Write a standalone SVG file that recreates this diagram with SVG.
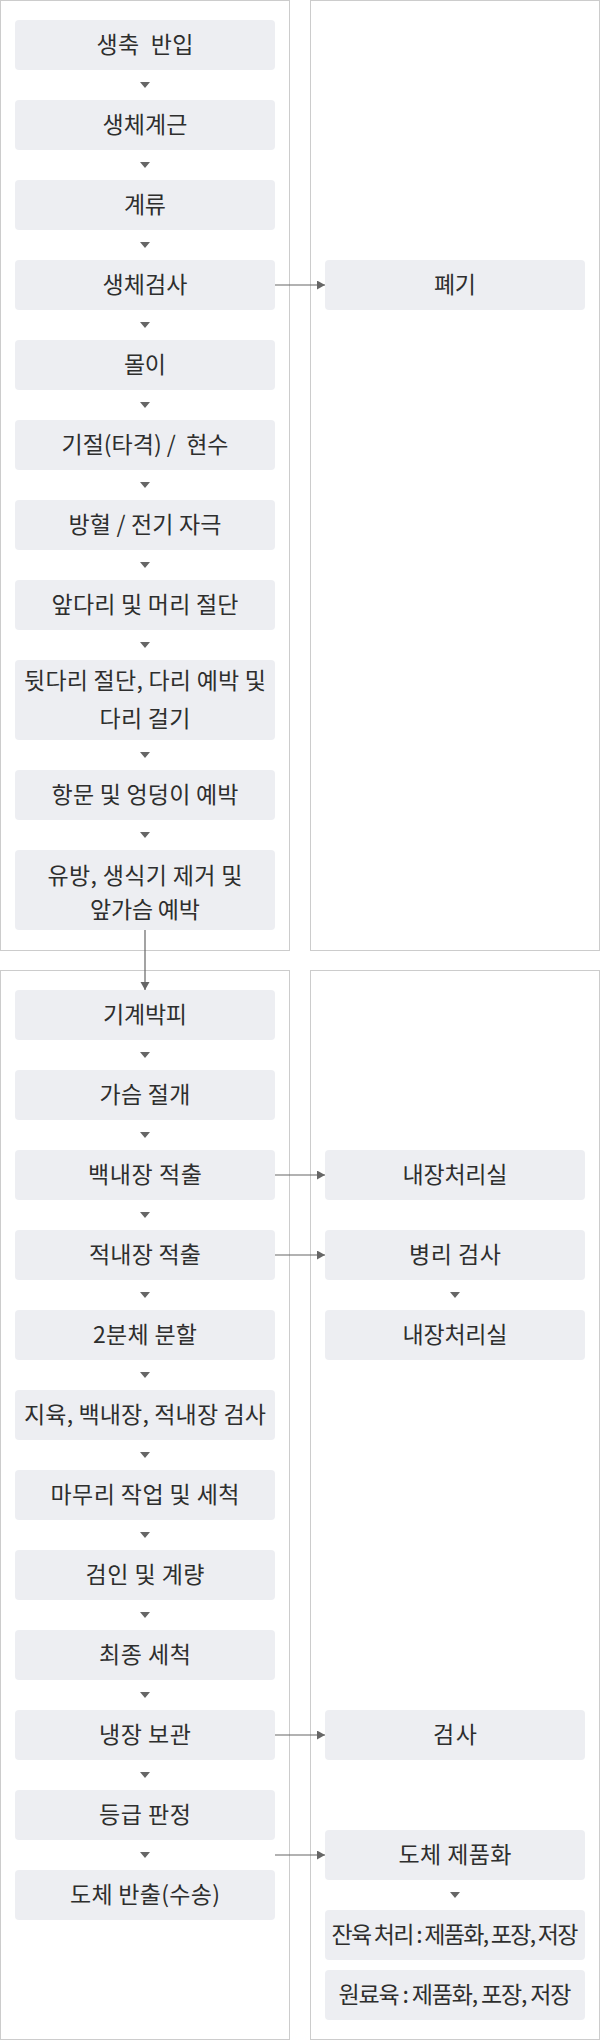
<svg xmlns="http://www.w3.org/2000/svg" width="600" height="2040" viewBox="0 0 600 2040">
<defs>
<style>
.panel{fill:#fff;stroke:#cccccc;stroke-width:1}
.node rect{fill:#edeef2}
.node text{font-family:"Noto Sans CJK KR","Noto Sans",sans-serif;font-size:23px;fill:#2e2e2e;text-anchor:middle;white-space:pre}
.tri{fill:#666}
.conn{stroke:#666;stroke-width:1.2;fill:none}
</style>
<marker id="ah" markerUnits="userSpaceOnUse" markerWidth="9" markerHeight="10" refX="8" refY="4.5" orient="auto">
<path d="M0,0 L8,4.5 L0,9 z" fill="#666"/>
</marker>
</defs>
<g id="panels">
<rect class="panel" x="0.5" y="0.5" width="289" height="950"/>
<rect class="panel" x="310.5" y="0.5" width="289" height="950"/>
<rect class="panel" x="0.5" y="970.5" width="289" height="1069"/>
<rect class="panel" x="310.5" y="970.5" width="289" height="1069"/>
</g>
<g id="n1" class="node"><rect x="15" y="20" width="260" height="50" rx="4"/><text x="145" y="52.5" xml:space="preserve" textLength="97" lengthAdjust="spacing">생축  반입</text></g>
<g id="n2" class="node"><rect x="15" y="100" width="260" height="50" rx="4"/><text x="145" y="132.5" textLength="85" lengthAdjust="spacing">생체계근</text></g>
<g id="n3" class="node"><rect x="15" y="180" width="260" height="50" rx="4"/><text x="145" y="212.5" textLength="42" lengthAdjust="spacing">계류</text></g>
<g id="n4" class="node"><rect x="15" y="260" width="260" height="50" rx="4"/><text x="145" y="292.5" textLength="85" lengthAdjust="spacing">생체검사</text></g>
<g id="n5" class="node"><rect x="15" y="340" width="260" height="50" rx="4"/><text x="145" y="372.5" textLength="42" lengthAdjust="spacing">몰이</text></g>
<g id="n6" class="node"><rect x="15" y="420" width="260" height="50" rx="4"/><text x="145" y="452.5" xml:space="preserve" textLength="167" lengthAdjust="spacing">기절(타격) /  현수</text></g>
<g id="n7" class="node"><rect x="15" y="500" width="260" height="50" rx="4"/><text x="145" y="532.5" textLength="153" lengthAdjust="spacing">방혈 / 전기 자극</text></g>
<g id="n8" class="node"><rect x="15" y="580" width="260" height="50" rx="4"/><text x="145" y="612.5" textLength="187" lengthAdjust="spacing">앞다리 및 머리 절단</text></g>
<g id="n9" class="node"><rect x="15" y="660" width="260" height="80" rx="4"/><text x="145" y="689" textLength="242" lengthAdjust="spacing">뒷다리 절단, 다리 예박 및</text><text x="145" y="726.5" textLength="91" lengthAdjust="spacing">다리 걸기</text></g>
<g id="n10" class="node"><rect x="15" y="770" width="260" height="50" rx="4"/><text x="145" y="802.5" textLength="187" lengthAdjust="spacing">항문 및 엉덩이 예박</text></g>
<g id="n11" class="node"><rect x="15" y="850" width="260" height="80" rx="4"/><text x="145" y="884" textLength="195" lengthAdjust="spacing">유방, 생식기 제거 및</text><text x="145" y="917.5" textLength="110" lengthAdjust="spacing">앞가슴 예박</text></g>
<g id="r1" class="node"><rect x="325" y="260" width="260" height="50" rx="4"/><text x="455" y="292.5" textLength="42" lengthAdjust="spacing">폐기</text></g>

<g id="m1" class="node"><rect x="15" y="990" width="260" height="50" rx="4"/><text x="145" y="1022.5" textLength="84" lengthAdjust="spacing">기계박피</text></g>
<g id="m2" class="node"><rect x="15" y="1070" width="260" height="50" rx="4"/><text x="145" y="1102.5" textLength="91" lengthAdjust="spacing">가슴 절개</text></g>
<g id="m3" class="node"><rect x="15" y="1150" width="260" height="50" rx="4"/><text x="145" y="1182.5" textLength="114" lengthAdjust="spacing">백내장 적출</text></g>
<g id="m4" class="node"><rect x="15" y="1230" width="260" height="50" rx="4"/><text x="145" y="1262.5" textLength="112" lengthAdjust="spacing">적내장 적출</text></g>
<g id="m5" class="node"><rect x="15" y="1310" width="260" height="50" rx="4"/><text x="145" y="1342.5" textLength="104" lengthAdjust="spacing">2분체 분할</text></g>
<g id="m6" class="node"><rect x="15" y="1390" width="260" height="50" rx="4"/><text x="145" y="1422.5" textLength="242" lengthAdjust="spacing">지육, 백내장, 적내장 검사</text></g>
<g id="m7" class="node"><rect x="15" y="1470" width="260" height="50" rx="4"/><text x="145" y="1502.5" textLength="189" lengthAdjust="spacing">마무리 작업 및 세척</text></g>
<g id="m8" class="node"><rect x="15" y="1550" width="260" height="50" rx="4"/><text x="145" y="1582.5" textLength="119" lengthAdjust="spacing">검인 및 계량</text></g>
<g id="m9" class="node"><rect x="15" y="1630" width="260" height="50" rx="4"/><text x="145" y="1662.5" textLength="92" lengthAdjust="spacing">최종 세척</text></g>
<g id="m10" class="node"><rect x="15" y="1710" width="260" height="50" rx="4"/><text x="145" y="1742.5" textLength="92" lengthAdjust="spacing">냉장 보관</text></g>
<g id="m11" class="node"><rect x="15" y="1790" width="260" height="50" rx="4"/><text x="145" y="1822.5" textLength="92" lengthAdjust="spacing">등급 판정</text></g>
<g id="m12" class="node"><rect x="15" y="1870" width="260" height="50" rx="4"/><text x="145" y="1902.5" textLength="150" lengthAdjust="spacing">도체 반출(수송)</text></g>

<g id="s1" class="node"><rect x="325" y="1150" width="260" height="50" rx="4"/><text x="455" y="1182.5" textLength="105" lengthAdjust="spacing">내장처리실</text></g>
<g id="s2" class="node"><rect x="325" y="1230" width="260" height="50" rx="4"/><text x="455" y="1262.5" textLength="92" lengthAdjust="spacing">병리 검사</text></g>
<g id="s3" class="node"><rect x="325" y="1310" width="260" height="50" rx="4"/><text x="455" y="1342.5" textLength="105" lengthAdjust="spacing">내장처리실</text></g>
<g id="s4" class="node"><rect x="325" y="1710" width="260" height="50" rx="4"/><text x="455" y="1742.5" textLength="44" lengthAdjust="spacing">검사</text></g>
<g id="s5" class="node"><rect x="325" y="1830" width="260" height="50" rx="4"/><text x="455" y="1862.5" textLength="113" lengthAdjust="spacing">도체 제품화</text></g>
<g id="s6" class="node"><rect x="325" y="1910" width="260" height="50" rx="4"/><text x="455" y="1942.5" textLength="247" lengthAdjust="spacing">잔육 처리 : 제품화, 포장, 저장</text></g>
<g id="s7" class="node"><rect x="325" y="1970" width="260" height="50" rx="4"/><text x="455" y="2002.5" textLength="233" lengthAdjust="spacing">원료육 : 제품화, 포장, 저장</text></g>

<g id="connectors">
<path class="tri" d="M140,82 h10 l-5,6 z M140,162 h10 l-5,6 z M140,242 h10 l-5,6 z M140,322 h10 l-5,6 z M140,402 h10 l-5,6 z M140,482 h10 l-5,6 z M140,562 h10 l-5,6 z M140,642 h10 l-5,6 z M140,752 h10 l-5,6 z M140,832 h10 l-5,6 z"/>
<path class="tri" d="M140,1052 h10 l-5,6 z M140,1132 h10 l-5,6 z M140,1212 h10 l-5,6 z M140,1292 h10 l-5,6 z M140,1372 h10 l-5,6 z M140,1452 h10 l-5,6 z M140,1532 h10 l-5,6 z M140,1612 h10 l-5,6 z M140,1692 h10 l-5,6 z M140,1772 h10 l-5,6 z M140,1852 h10 l-5,6 z"/>
<path class="tri" d="M450,1292 h10 l-5,6 z M450,1892 h10 l-5,6 z"/>
<line class="conn" x1="145" y1="930" x2="145" y2="990" marker-end="url(#ah)"/>
<line class="conn" x1="275" y1="285" x2="325" y2="285" marker-end="url(#ah)"/>
<line class="conn" x1="275" y1="1175" x2="325" y2="1175" marker-end="url(#ah)"/>
<line class="conn" x1="275" y1="1255" x2="325" y2="1255" marker-end="url(#ah)"/>
<line class="conn" x1="275" y1="1735" x2="325" y2="1735" marker-end="url(#ah)"/>
<line class="conn" x1="275" y1="1855" x2="325" y2="1855" marker-end="url(#ah)"/>
</g>
</svg>
